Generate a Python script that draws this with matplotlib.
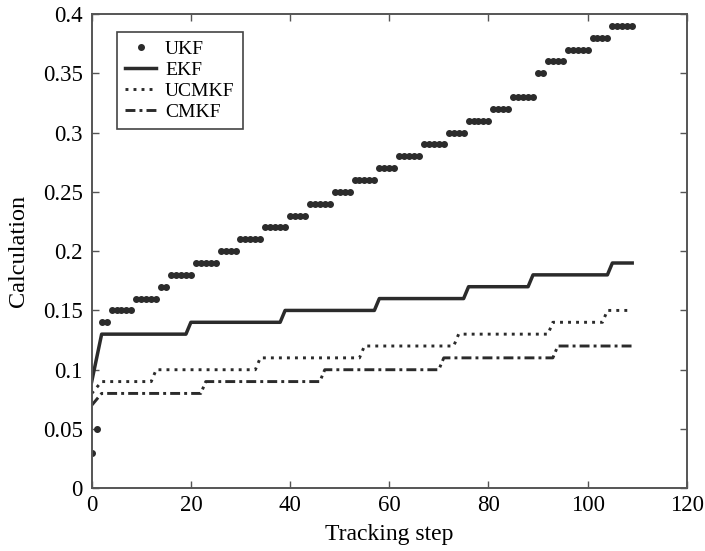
import numpy as np
import matplotlib
matplotlib.use("Agg")
import matplotlib.pyplot as plt
from matplotlib.ticker import FuncFormatter

# ---- data ----
steps = np.arange(0, 110)

ukf_levels = [0.03, 0.05, 0.14, 0.15, 0.16, 0.17, 0.18, 0.19, 0.20, 0.21, 0.22,
              0.23, 0.24, 0.25, 0.26, 0.27, 0.28, 0.29, 0.30, 0.31, 0.32, 0.33,
              0.35, 0.36, 0.37, 0.38, 0.39]
ukf_counts = [1, 1, 2, 5, 5, 2, 5, 5, 4, 5, 5,
              4, 5, 4, 5, 4, 5, 5, 4, 5, 4, 5,
              2, 4, 5, 4, 5]

ekf_levels = [0.09, 0.11, 0.13, 0.14, 0.15, 0.16, 0.17, 0.18, 0.19]
ekf_counts = [1, 1, 18, 19, 19, 18, 13, 16, 5]

ucmkf_levels = [0.08, 0.085, 0.09, 0.10, 0.11, 0.12, 0.13, 0.14, 0.15]
ucmkf_counts = [1, 1, 11, 21, 21, 19, 19, 11, 6]

cmkf_levels = [0.07, 0.075, 0.08, 0.09, 0.10, 0.11, 0.12]
cmkf_counts = [1, 1, 21, 24, 24, 23, 16]

ukf = np.repeat(ukf_levels, ukf_counts)
ekf = np.repeat(ekf_levels, ekf_counts)
ucmkf = np.repeat(ucmkf_levels, ucmkf_counts)
cmkf = np.repeat(cmkf_levels, cmkf_counts)

xticks = [0, 20, 40, 60, 80, 100, 120]
yticks = [0, 0.05, 0.1, 0.15, 0.2, 0.25, 0.3, 0.35, 0.4]

# ---- figure ----
plt.rcParams['font.family'] = ['Liberation Serif', 'DejaVu Serif']

fig = plt.figure(figsize=(7.05, 5.51), dpi=100)
ax = fig.add_axes([0.1301, 0.1138, 0.8440, 0.8608])

line_col = '#2b2b2b'
ax.plot(steps, ukf, linestyle='none', marker='o', markersize=4.0,
        color=line_col, label='UKF')
ax.plot(steps, ekf, linestyle='-', linewidth=2.5, color=line_col, label='EKF')
ax.plot(steps, ucmkf, linestyle=(0, (1, 1.75)), linewidth=2.1,
        color=line_col, label='UCMKF', dash_capstyle='butt')
ax.plot(steps, cmkf, linestyle=(0, (3.4, 1.4, 1, 1.4)), linewidth=2.1,
        color=line_col, label='CMKF', dash_capstyle='butt')

ax.set_xlim(0, 120)
ax.set_ylim(0, 0.4)
ax.set_xticks(xticks)
ax.set_yticks(yticks)
ax.yaxis.set_major_formatter(FuncFormatter(lambda v, p: ('%g' % v)))
ax.tick_params(direction='in', length=5, width=1.0, color='#555555',
               labelsize=16.5, top=True, right=True)
ax.tick_params(axis='x', pad=4.5)
ax.tick_params(axis='y', pad=6.5)
for s in ax.spines.values():
    s.set_color('#555555')
    s.set_linewidth(1.4)

ax.set_xlabel('Tracking step', fontsize=17, labelpad=6)
ax.set_ylabel('Calculation', fontsize=17.5, labelpad=10)

leg = ax.legend(loc='upper left', bbox_to_anchor=(0.0425, 0.962),
                borderaxespad=0, fontsize=14, numpoints=1,
                handlelength=1.6, handletextpad=0.45, labelspacing=0.18,
                borderpad=0.42, fancybox=False, framealpha=1)
leg.get_frame().set_edgecolor('#444444')
leg.get_frame().set_linewidth(1.2)

fig.savefig('out.png', dpi=100)
